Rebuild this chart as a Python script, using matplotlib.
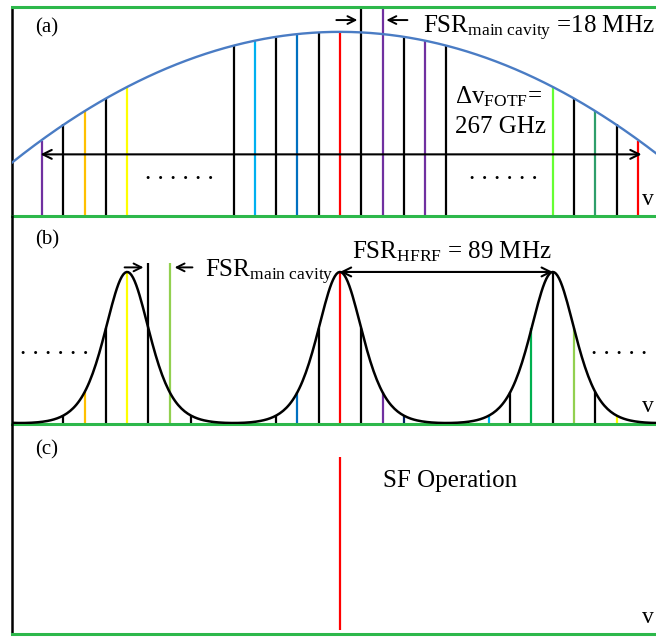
import numpy as np
import matplotlib
matplotlib.use('Agg')
import matplotlib.pyplot as plt

plt.rcParams['font.family'] = ['Liberation Serif', 'DejaVu Serif']
plt.rcParams['mathtext.fontset'] = 'custom'
plt.rcParams['mathtext.rm'] = 'Liberation Serif'
plt.rcParams['mathtext.it'] = 'Liberation Serif:italic'

K = 'black'
PURPLE = '#7030A0'
ORANGE = '#FFC000'
YELLOW = '#FFFF00'
LBLUE = '#00B0F0'
BLUE = '#0070C0'
RED = '#FF0000'
LGREEN = '#66FF33'
SGREEN = '#2E9E6A'
GREEN = '#00B050'
YGREEN = '#92D050'
NAVY = '#002060'
FRAME_GREEN = '#2DB84B'
ENV_BLUE = '#4A7CC4'

# ---- panel (a): main-cavity modes under the gain envelope (mode index, height)
modes_a = [0, 1, 2, 3, 4, 9, 10, 11, 12, 13, 14, 15, 16, 17, 18, 19, 24, 25, 26, 27, 28]
colors_a = [PURPLE, K, ORANGE, K, YELLOW, K, LBLUE, K, BLUE, K, RED, K, PURPLE, K,
            PURPLE, K, LGREEN, K, SGREEN, K, RED]
heights_a = [0.41, 0.50, 0.57, 0.64, 0.70, 0.93, 0.95, 0.97, 0.99, 1.00, 1.00, 1.00,
             0.99, 0.97, 0.95, 0.93, 0.70, 0.64, 0.57, 0.50, 0.41]
fsr_marks_a = [15, 16]

# ---- panel (b): modes after the high-finesse filter
modes_b = list(range(29))
colors_b = [RED, K, ORANGE, K, YELLOW, K, YGREEN, K, K, K, LBLUE, K, BLUE, K, RED, K,
            PURPLE, NAVY, K, K, K, LBLUE, K, GREEN, K, YGREEN, K, YELLOW, K]
heights_b = [0.014, 0.06, 0.21, 0.63, 1.0, 0.63, 0.21, 0.055, 0.014, 0.007, 0.014,
             0.055, 0.21, 0.63, 1.0, 0.63, 0.21, 0.055, 0.014, 0.007, 0.014, 0.055,
             0.21, 0.63, 1.0, 0.63, 0.21, 0.055, 0.014]
fsr_marks_b = [5, 6]
hfrf_peaks = [-6, 4, 14, 24, 34]
hfrf_width = 1.41

# ---- panel (c): single-frequency line
sf_mode = 14
sf_height = 0.96

XL, XR = -1.41, 28.85
W, H = 656, 641

fig = plt.figure(figsize=(6.56, 6.41), dpi=100)


def make_ax(top_px, bot_px, ytop, top_line=False):
    ax = fig.add_axes([12 / W, 1 - bot_px / H, 1 - 12 / W, (bot_px - top_px) / H])
    ax.set_xlim(XL, XR)
    ax.set_ylim(0, ytop)
    ax.set_xticks([])
    ax.set_yticks([])
    ax.spines['right'].set_visible(False)
    ax.spines['left'].set_color('black')
    ax.spines['left'].set_linewidth(1.8)
    ax.spines['bottom'].set_color(FRAME_GREEN)
    ax.spines['bottom'].set_linewidth(2.2)
    if top_line:
        ax.spines['top'].set_color(FRAME_GREEN)
        ax.spines['top'].set_linewidth(2.2)
    else:
        ax.spines['top'].set_visible(False)
    ax.patch.set_alpha(0)
    return ax


ax1 = make_ax(7, 216, 1.136, top_line=True)
ax2 = make_ax(216, 424, 1.368)
ax3 = make_ax(424, 634, 1.141)

# (a)
h_a = [ax1.get_ylim()[1] if m in fsr_marks_a else h for m, h in zip(modes_a, heights_a)]
ax1.vlines(modes_a, 0, h_a, colors=colors_a, lw=1.6, zorder=2)
coef = np.polyfit(modes_a, heights_a, 2)
xs = np.linspace(XL, XR, 400)
ax1.plot(xs, np.polyval(coef, xs), color=ENV_BLUE, lw=1.7, zorder=3)
ax1.annotate('', xy=(-0.2, 0.335), xytext=(28.3, 0.335),
             arrowprops=dict(arrowstyle='<->', lw=1.5, color='black', mutation_scale=16))
ax1.annotate('', xy=(14.95, 1.065), xytext=(13.7, 1.065),
             arrowprops=dict(arrowstyle='->', lw=1.4, color='black', mutation_scale=14))
ax1.annotate('', xy=(16.05, 1.065), xytext=(17.3, 1.065),
             arrowprops=dict(arrowstyle='->', lw=1.4, color='black', mutation_scale=14))
ax1.text(-0.33, 1.02, '(a)', fontsize=15, va='center', ha='left')
ax1.text(17.9, 0.995, r'FSR$_{\mathrm{main\ cavity}}$ =18 MHz', fontsize=18, va='baseline')
ax1.text(19.4, 0.614, u'\u0394v$_{\mathrm{FOTF}}$=', fontsize=18, va='baseline')
ax1.text(19.4, 0.451, '267 GHz', fontsize=18, va='baseline')
ax1.text(6.44, 0.20, '. . . . . .', fontsize=18, ha='center', va='baseline')
ax1.text(21.7, 0.20, '. . . . . .', fontsize=18, ha='center', va='baseline')
ax1.text(28.2, 0.06, 'v', fontsize=17, va='baseline', clip_on=False)

# (b)
h_b = [1.06 if m in fsr_marks_b else h for m, h in zip(modes_b, heights_b)]
ax2.vlines(modes_b, 0, h_b, colors=colors_b, lw=1.6, zorder=2)
curve = sum(1 / np.cosh((xs - p) / hfrf_width) ** 2 for p in hfrf_peaks)
ax2.plot(xs, curve, color='black', lw=1.8, zorder=3)
ax2.annotate('', xy=(4.9, 1.03), xytext=(3.75, 1.03),
             arrowprops=dict(arrowstyle='->', lw=1.4, color='black', mutation_scale=14))
ax2.annotate('', xy=(6.1, 1.03), xytext=(7.2, 1.03),
             arrowprops=dict(arrowstyle='->', lw=1.4, color='black', mutation_scale=14))
ax2.annotate('', xy=(14, 1.0), xytext=(24, 1.0),
             arrowprops=dict(arrowstyle='<->', lw=1.5, color='black', mutation_scale=16,
                             shrinkA=0, shrinkB=0))
ax2.text(-0.33, 1.21, '(b)', fontsize=15, va='center', ha='left')
ax2.text(7.66, 0.967, r'FSR$_{\mathrm{main\ cavity}}$', fontsize=18, va='baseline')
ax2.text(14.57, 1.086, r'FSR$_{\mathrm{HFRF}}$ = 89 MHz', fontsize=18, va='baseline')
ax2.text(0.56, 0.46, '. . . . . .', fontsize=18, ha='center', va='baseline')
ax2.text(27.14, 0.46, '. . . . .', fontsize=18, ha='center', va='baseline')
ax2.text(28.2, 0.08, 'v', fontsize=17, va='baseline', clip_on=False)

# (c)
ax3.vlines([sf_mode], 0.02, sf_height, colors=RED, lw=1.6)
ax3.text(-0.33, 1.0, '(c)', fontsize=15, va='center', ha='left')
ax3.text(16.02, 0.80, 'SF Operation', fontsize=18, va='baseline')
ax3.text(28.2, 0.06, 'v', fontsize=17, va='baseline', clip_on=False)

fig.savefig('out.png', dpi=100)
